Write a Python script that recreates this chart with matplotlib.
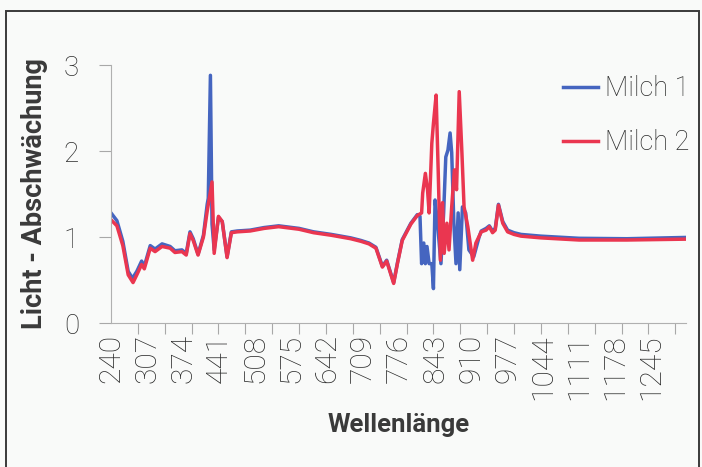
import numpy as np
import matplotlib.pyplot as plt
from matplotlib import font_manager
from matplotlib.patches import Rectangle

# Milch 1 (blue)
wl1 = [240, 251, 262, 272, 280, 288, 297, 302, 313, 322, 335, 350, 359, 372, 380,
       387, 393, 402, 412, 419, 421, 425, 428, 432, 440, 447, 456, 464, 475, 499,
       525, 552, 590, 617, 650, 686, 705, 720, 733, 745, 753, 766, 773, 782, 798,
       810, 815, 818, 822, 825, 828, 832, 837, 840, 843, 847, 854, 859, 863, 867,
       871, 874, 878, 882, 886, 889, 894, 900, 906, 915, 925, 929, 938, 944, 950,
       955, 961, 969, 978, 990, 1003, 1040, 1111, 1200, 1310]
milch1 = [1.28, 1.19, 0.95, 0.60, 0.52, 0.60, 0.72, 0.66, 0.90, 0.86, 0.92, 0.89, 0.84, 0.85, 0.81,
          1.06, 0.98, 0.80, 1.02, 1.38, 1.45, 2.88, 1.15, 0.85, 1.23, 1.18, 0.77, 1.06, 1.07, 1.08,
          1.11, 1.13, 1.10, 1.06, 1.03, 0.99, 0.96, 0.93, 0.88, 0.66, 0.73, 0.47, 0.70, 0.97, 1.16,
          1.26, 1.24, 0.69, 0.93, 0.69, 0.89, 0.69, 0.69, 0.40, 1.43, 1.20, 0.69, 1.28, 1.93, 2.01,
          2.21, 1.98, 1.16, 0.69, 1.28, 0.62, 1.35, 1.28, 0.85, 0.77, 1.00, 1.07, 1.10, 1.13, 1.07,
          1.10, 1.38, 1.18, 1.08, 1.05, 1.03, 1.01, 0.985, 0.98, 0.995]

# Milch 2 (red)
wl2 = [240, 251, 262, 272, 281, 288, 297, 302, 313, 322, 335, 350, 359, 372, 380,
       387, 393, 402, 412, 419, 428, 432, 440, 447, 456, 464, 475, 499, 525, 552,
       590, 617, 650, 686, 705, 720, 733, 745, 753, 766, 773, 782, 798, 810, 818,
       820, 825, 829, 832, 837, 840, 845, 849, 853, 857, 860, 865, 869, 874, 879,
       883, 888, 893, 897, 904, 913, 919, 929, 938, 944, 950, 955, 961, 969, 978,
       990, 1003, 1040, 1111, 1200, 1310]
milch2 = [1.20, 1.13, 0.90, 0.56, 0.47, 0.56, 0.68, 0.63, 0.87, 0.83, 0.89, 0.87, 0.82, 0.83, 0.79,
          1.04, 0.96, 0.79, 1.00, 1.30, 1.64, 0.81, 1.24, 1.18, 0.76, 1.05, 1.06, 1.07, 1.10, 1.12,
          1.09, 1.05, 1.02, 0.98, 0.95, 0.92, 0.87, 0.65, 0.72, 0.46, 0.69, 0.96, 1.15, 1.25, 1.28,
          1.51, 1.74, 1.55, 1.28, 2.09, 2.32, 2.65, 1.74, 0.73, 1.40, 0.81, 1.16, 0.85, 1.35, 1.78,
          1.55, 2.69, 1.98, 1.35, 1.12, 0.73, 0.93, 1.06, 1.08, 1.12, 1.05, 1.08, 1.37, 1.16, 1.06,
          1.03, 1.01, 0.99, 0.965, 0.965, 0.975]

xlabels = [240, 307, 374, 441, 508, 575, 642, 709, 776, 843, 910, 977, 1044, 1111, 1178, 1245]
yticks = [0, 1, 2, 3]

names = {f.name for f in font_manager.fontManager.ttflist}
bold_font = 'Liberation Sans Narrow' if 'Liberation Sans Narrow' in names else 'Roboto'
light_font = ['Roboto', 'DejaVu Sans']

fig = plt.figure(figsize=(7.02, 4.67), dpi=100, facecolor='#f9faf9')
ax = fig.add_axes([111/702, 1 - 323/467, 575/702, 258/467])
ax.set_facecolor('#f9faf9')

ax.plot(wl1, milch1, color='#4565c0', lw=2.5, label='Milch 1', solid_joinstyle='round')
ax.plot(wl2, milch2, color='#ea3650', lw=2.5, label='Milch 2', solid_joinstyle='round')

ax.set_xlim(240, 1310)
ax.set_ylim(0, 3)

ax.set_xticks(xlabels)
ax.set_xticklabels([str(v) for v in xlabels], rotation=90, fontsize=21.5,
                   family=light_font, fontweight='light', color='#2b2b2b')
ax.set_xticks(np.arange(240, 1311, 50), minor=True)
ax.tick_params(axis='x', which='major', length=0, pad=8)
ax.tick_params(axis='x', which='minor', length=8, width=0.8, color='#a8a8a8')

ax.set_yticks(yticks)
ax.set_yticklabels([str(v) for v in yticks], fontsize=20, family=light_font,
                   fontweight='light', color='#2b2b2b')
ax.tick_params(axis='y', length=9, width=0.8, color='#a8a8a8', pad=14)

for s in ['top', 'right']:
    ax.spines[s].set_visible(False)
for s in ['left', 'bottom']:
    ax.spines[s].set_color('#b0b0b0')
    ax.spines[s].set_linewidth(0.8)

ax.set_ylabel('Licht - Abschwächung', fontsize=19.5, fontweight='bold',
              family=[bold_font, 'DejaVu Sans'], color='#3a3a3a')
ax.yaxis.set_label_coords(-0.11, 0.5)
ax.set_xlabel('Wellenlänge', fontsize=18.5, fontweight='bold',
              family=[bold_font, 'DejaVu Sans'], color='#3a3a3a', va='top')
ax.xaxis.set_label_coords(0.5, -0.35)

leg = ax.legend(loc='upper left', bbox_to_anchor=(452/575, 0.96), frameon=False,
                borderaxespad=0, borderpad=0,
                handlelength=1.3, handletextpad=0.25, labelspacing=1.0,
                prop={'family': light_font, 'weight': 'light', 'size': 19.5})
for t in leg.get_texts():
    t.set_color('#2b2b2b')

# frame of the scanned figure
fig.patches.append(Rectangle((6/702, -0.05), 693/702, 1.05 - 11/467, transform=fig.transFigure,
                             fill=False, edgecolor='#3a3a3a', lw=1.4))

fig.savefig('out.png', dpi=100, facecolor=fig.get_facecolor())
